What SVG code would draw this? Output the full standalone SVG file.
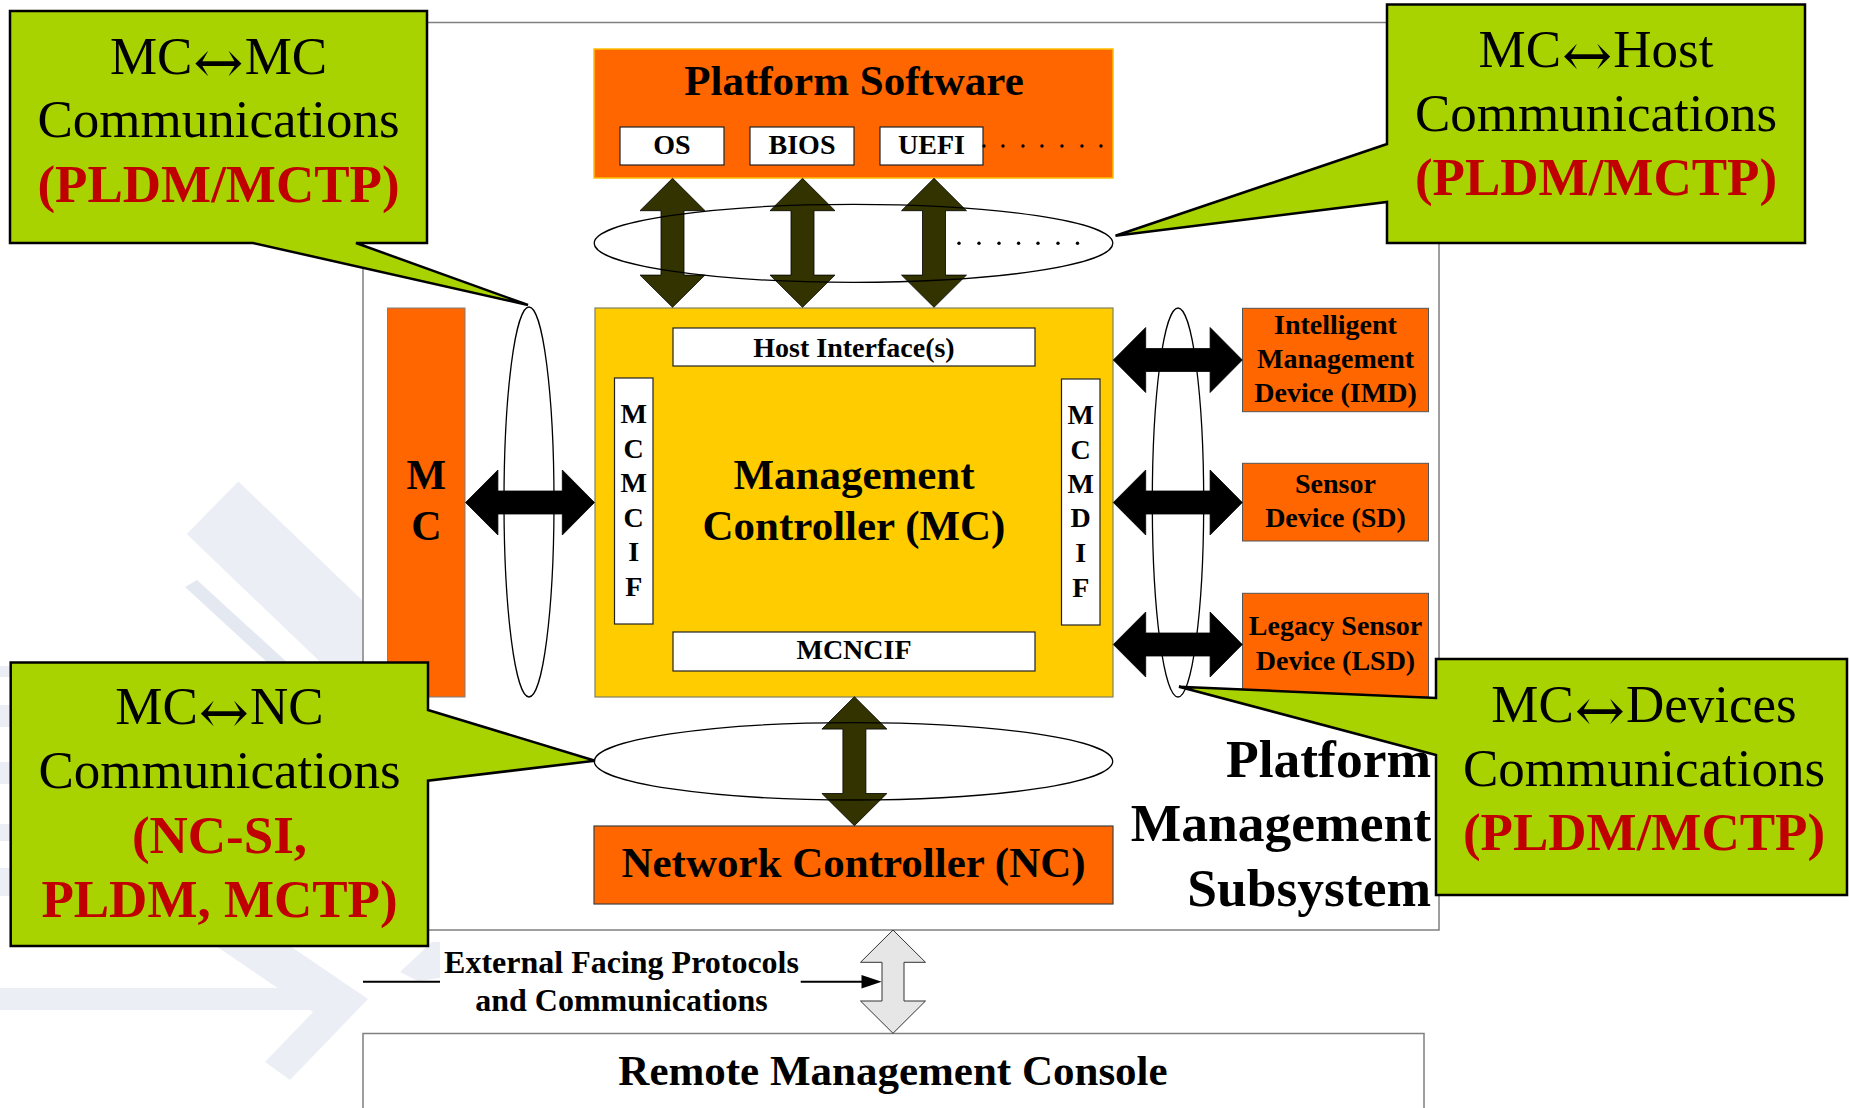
<svg xmlns="http://www.w3.org/2000/svg" width="1849" height="1108" viewBox="0 0 1849 1108">
<defs>
<style>
.b{font-family:"Liberation Serif","Times New Roman",serif;font-weight:bold;text-anchor:middle;fill:#000}
.n{font-family:"Liberation Serif","Times New Roman",serif;font-weight:normal;text-anchor:middle;fill:#000}
.arr{font-family:"DejaVu Serif",serif;font-size:60px}
.red{fill:#C00000;font-weight:bold}
.orange{fill:#FF6600;stroke:#555;stroke-width:1}
.wbox{fill:#fff;stroke:#222;stroke-width:1.2}
.ell{fill:none;stroke:#000;stroke-width:1.3}
.callout{fill:#A9D300;stroke:#000;stroke-width:2.5;stroke-linejoin:miter}
.dark{fill:#333300;stroke:#000;stroke-width:0.8}
.blk{fill:#000;stroke:#000;stroke-width:0.8}
.wm{fill:#EBEEF5}
.wm2{fill:#E4E8F1}
.dot{fill:#000}
</style>
<path id="varrow" d="M0,0 L32.5,32.4 H11.5 V96.8 H32.5 L0,129 L-32.5,96.8 H-11.5 V32.4 H-32.5 Z"/>
</defs>

<!-- background watermark -->
<g id="watermark">
<polygon class="wm" points="186.7,534 238.3,481.4 362,600 362,702"/>
<polygon class="wm2" points="185,587 197,580 290,665 270,665"/>
<rect class="wm" x="0" y="988" width="340" height="22"/>
<polygon class="wm" points="368,999 215,895 185,925 313,1012 265,1062 290,1080"/>
<polygon class="wm" points="400,972 432,942 440,942 440,978 418,981"/>
<rect class="wm" x="0" y="666" width="11" height="11"/>
<rect class="wm" x="0" y="705" width="11" height="22"/>
<rect class="wm" x="0" y="762" width="11" height="22"/>
<rect class="wm" x="0" y="824" width="11" height="17"/>
<rect class="wm" x="0" y="868" width="11" height="28"/>
</g>

<!-- containers -->
<g id="platform-management-subsystem">
<rect x="363" y="22.5" width="1076" height="907.5" fill="#fff" stroke="#7f7f7f" stroke-width="1.5"/>
<text class="b" style="text-anchor:end" font-size="53.5"><tspan x="1431" y="776.5">Platform</tspan><tspan x="1431" y="840.5">Management</tspan><tspan x="1431" y="905.5">Subsystem</tspan></text>
</g>
<g id="remote-console">
<rect x="363" y="1033.5" width="1061" height="90" fill="#fff" stroke="#7f7f7f" stroke-width="1.5"/>
<text class="b" x="893" y="1085" font-size="43">Remote Management Console</text>
</g>

<g id="platform-software">
<rect x="594" y="49" width="519" height="129" fill="#FF6600" stroke="#FFC000" stroke-width="1.5"/>
<text class="b" x="854" y="95" font-size="43">Platform Software</text>
<rect class="wbox" x="620" y="127" width="104" height="38"/>
<text class="b" x="672" y="154.3" font-size="28">OS</text>
<rect class="wbox" x="750" y="127" width="104" height="38"/>
<text class="b" x="802" y="154.3" font-size="28">BIOS</text>
<rect class="wbox" x="880" y="127" width="103" height="38"/>
<text class="b" x="931.5" y="154.3" font-size="28">UEFI</text>
<circle class="dot" cx="984" cy="146" r="1.7"/><circle class="dot" cx="1003" cy="146" r="1.7"/><circle class="dot" cx="1023" cy="146" r="1.7"/><circle class="dot" cx="1042" cy="146" r="1.7"/><circle class="dot" cx="1062" cy="146" r="1.7"/><circle class="dot" cx="1082" cy="146" r="1.7"/><circle class="dot" cx="1101" cy="146" r="1.7"/>
</g>

<g id="management-controller">
<rect x="595" y="308" width="518" height="389" fill="#FFCC00" stroke="#808060" stroke-width="1.2"/>
<rect class="wbox" x="673" y="328" width="362" height="38"/>
<text class="b" x="854" y="356.7" font-size="28">Host Interface(s)</text>
<rect class="wbox" x="673" y="632" width="362" height="39"/>
<text class="b" x="854" y="659.3" font-size="28">MCNCIF</text>
<rect class="wbox" x="614.5" y="378" width="38.5" height="246" stroke="#555"/>
<text class="b" font-size="28"><tspan x="633.7" y="423">M</tspan><tspan x="633.7" y="458">C</tspan><tspan x="633.7" y="492">M</tspan><tspan x="633.7" y="527">C</tspan><tspan x="633.7" y="561">I</tspan><tspan x="633.7" y="596">F</tspan></text>
<rect class="wbox" x="1061.5" y="379" width="38.5" height="246" stroke="#555"/>
<text class="b" font-size="28"><tspan x="1080.7" y="424">M</tspan><tspan x="1080.7" y="459">C</tspan><tspan x="1080.7" y="493">M</tspan><tspan x="1080.7" y="527">D</tspan><tspan x="1080.7" y="562">I</tspan><tspan x="1080.7" y="597">F</tspan></text>
<text class="b" font-size="43"><tspan x="854" y="489">Management</tspan><tspan x="854" y="540">Controller (MC)</tspan></text>
</g>

<g id="mc-peer">
<rect x="387.5" y="308" width="77.5" height="389" fill="#FF6600" stroke="#7f7f7f" stroke-width="1"/>
<text class="b" font-size="42"><tspan x="426.3" y="489">M</tspan><tspan x="426.3" y="540">C</tspan></text>
</g>

<g id="imd">
<rect class="orange" x="1242.5" y="308.3" width="186" height="103.4"/>
<text class="b" font-size="28"><tspan x="1335.5" y="334">Intelligent</tspan><tspan x="1335.5" y="368">Management</tspan><tspan x="1335.5" y="401.7">Device (IMD)</tspan></text>
</g>
<g id="sd">
<rect class="orange" x="1242.5" y="463.3" width="186" height="77.7"/>
<text class="b" font-size="28"><tspan x="1335.5" y="492.7">Sensor</tspan><tspan x="1335.5" y="526.7">Device (SD)</tspan></text>
</g>
<g id="lsd">
<rect class="orange" x="1242.5" y="593.3" width="186" height="103.5"/>
<text class="b" font-size="28"><tspan x="1335.5" y="635">Legacy Sensor</tspan><tspan x="1335.5" y="670">Device (LSD)</tspan></text>
</g>

<g id="network-controller">
<rect x="594" y="826" width="519" height="78" fill="#FF6600" stroke="#404040" stroke-width="1.2"/>
<text class="b" x="853.5" y="876.7" font-size="43">Network Controller (NC)</text>
</g>

<g id="external-label">
<rect x="440" y="936" width="361" height="84" fill="#fff"/>
<text class="b" font-size="32"><tspan x="621.5" y="972.5">External Facing Protocols</tspan><tspan x="621.5" y="1010.5">and Communications</tspan></text>
</g>

<!-- connectors -->
<g id="connectors">
<use href="#varrow" class="dark" transform="translate(672.5,178.3)"/>
<use href="#varrow" class="dark" transform="translate(802.5,178.3)"/>
<use href="#varrow" class="dark" transform="translate(934,178.3)"/>
<use href="#varrow" class="dark" transform="translate(854.4,696.7)"/>
<use href="#varrow" class="blk" transform="translate(465.5,502.5) rotate(-90)"/>
<use href="#varrow" class="blk" transform="translate(1113.3,360) rotate(-90)"/>
<use href="#varrow" class="blk" transform="translate(1113.3,502.5) rotate(-90)"/>
<use href="#varrow" class="blk" transform="translate(1113.3,644.5) rotate(-90)"/>
<ellipse class="ell" cx="853.5" cy="243.3" rx="259.3" ry="39"/>
<ellipse class="ell" cx="529" cy="502" rx="25" ry="195"/>
<ellipse class="ell" cx="1178" cy="502.5" rx="25.7" ry="194.5"/>
<ellipse class="ell" cx="853.5" cy="761.3" rx="259.2" ry="38.7"/>
<circle class="dot" cx="959" cy="243.3" r="1.7"/><circle class="dot" cx="979" cy="243.3" r="1.7"/><circle class="dot" cx="999" cy="243.3" r="1.7"/><circle class="dot" cx="1018.6" cy="243.3" r="1.7"/><circle class="dot" cx="1038" cy="243.3" r="1.7"/><circle class="dot" cx="1058" cy="243.3" r="1.7"/><circle class="dot" cx="1077.5" cy="243.3" r="1.7"/>
<path d="M893,930 L925.5,962.3 H904 V1001 H925.5 L893,1033.3 L860.5,1001 H882 V962.3 H860.5 Z" fill="#E6E6E6" stroke="#333" stroke-width="1"/>
<line x1="363" y1="981.7" x2="440" y2="981.7" stroke="#000" stroke-width="2"/>
<line x1="800.7" y1="981.7" x2="863" y2="981.7" stroke="#000" stroke-width="2"/>
<path d="M881.7,981.7 L861.5,975 L861.5,988.4 Z" fill="#000"/>
</g>

<!-- callouts -->
<g id="callout-mc-mc">
<path class="callout" d="M10,11 H427 V243 H356 L528,305 L253,243 H10 Z"/>
<text class="n" font-size="53"><tspan x="218.5" y="74">MC</tspan><tspan class="arr" dx="1" dy="9">↔</tspan><tspan dx="1" dy="-9">MC</tspan></text>
<text class="n" x="218.5" y="137" font-size="53">Communications</text>
<text class="n red" x="218.5" y="201.7" font-size="53">(PLDM/MCTP)</text>
</g>
<g id="callout-mc-host">
<path class="callout" d="M1387,4.5 H1805 V243 H1387 V202 L1115.5,235.8 L1387,144 Z"/>
<text class="n" font-size="53"><tspan x="1596" y="66.7">MC</tspan><tspan class="arr" dx="1" dy="9">↔</tspan><tspan dx="1" dy="-9">Host</tspan></text>
<text class="n" x="1596" y="130.7" font-size="53">Communications</text>
<text class="n red" x="1596" y="195" font-size="53">(PLDM/MCTP)</text>
</g>
<g id="callout-mc-nc">
<path class="callout" d="M10.7,662.5 H428 V710 L595,760.7 L428,780.7 V946 H10.7 Z"/>
<text class="n" font-size="53"><tspan x="219.5" y="724.3">MC</tspan><tspan class="arr" dx="1" dy="9">↔</tspan><tspan dx="1" dy="-9">NC</tspan></text>
<text class="n" x="219.5" y="788.3" font-size="53">Communications</text>
<text class="n red" font-size="53"><tspan x="219.5" y="852.5">(NC-SI,</tspan><tspan x="219.5" y="916.7">PLDM, MCTP)</tspan></text>
</g>
<g id="callout-mc-devices">
<path class="callout" d="M1436,659 H1847 V895 H1436 V755 L1179,686.7 L1436,698 Z"/>
<text class="n" font-size="53"><tspan x="1644" y="721.7">MC</tspan><tspan class="arr" dx="1" dy="9">↔</tspan><tspan dx="1" dy="-9">Devices</tspan></text>
<text class="n" x="1644" y="785.7" font-size="53">Communications</text>
<text class="n red" x="1644" y="850" font-size="53">(PLDM/MCTP)</text>
</g>
</svg>
